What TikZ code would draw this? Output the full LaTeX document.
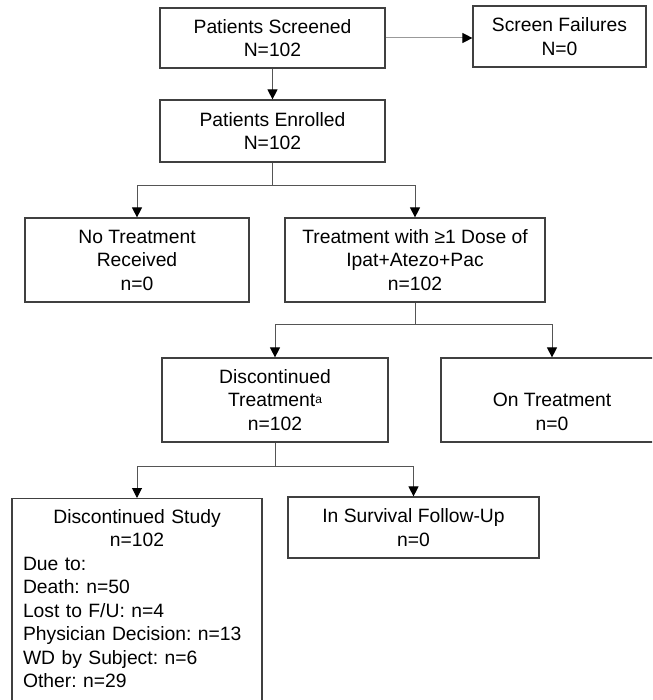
\documentclass[tikz,border=0pt]{standalone}
\usepackage{fontspec}
\setmainfont{Liberation Sans}
\usetikzlibrary{arrows.meta}
\definecolor{boxgray}{HTML}{404040}
\definecolor{linegray}{HTML}{555555}
\frenchspacing
\begin{document}
\begin{tikzpicture}[x=1pt,y=-1pt,
    box/.style={draw=boxgray, line width=1.2pt, inner sep=0pt, align=center,
      font=\fontsize{19.3}{23.5}\selectfont},
    link/.style={draw=linegray, line width=1pt},
    arr/.style={link, -{Triangle[length=10pt,width=10pt,color=black]}}]
  \clip (0,0) rectangle (652,700);
  % boxes
  \node[box, minimum width=225, minimum height=60] (screened) at (272.5,38)
    {Patients Screened\\N=102};
  \node[box, minimum width=173, minimum height=61] (failures) at (559.5,36.5)
    {Screen Failures\\N=0};
  \node[box, minimum width=225, minimum height=62] (enrolled) at (272.5,131)
    {Patients Enrolled\\N=102};
  \node[box, minimum width=224, minimum height=84] (notreat) at (137,260)
    {No Treatment\\Received\\n=0};
  \node[box, minimum width=260, minimum height=84] (treat) at (415,260)
    {Treatment with ≥1 Dose of\\Ipat+Atezo+Pac\\n=102};
  \node[box, minimum width=226, minimum height=84] (disctreat) at (275,400)
    {Discontinued\\Treatment{\fontsize{12}{12}\selectfont\raisebox{3pt}{a}}\\n=102};
  \node[box, minimum width=222, minimum height=84] (ontreat) at (552,400)
    {\vphantom{O}\\On Treatment\\n=0};
  \node[box, minimum width=250, minimum height=210, anchor=north] (study) at (137,498) {};
  \node[anchor=north, inner sep=0pt, text width=228, align=left,
    font=\fontsize{19.3}{23.5}\selectfont] (studytext) at ([yshift=-11]study.north)
    {{\centering Discontinued Study\\n=102\par}
     Due to:\\Death: n=50\\Lost to F/U: n=4\\Physician Decision: n=13\\WD by Subject: n=6\\Other: n=29};
  \node[box, minimum width=251, minimum height=61] (survival) at (413.5,527.5)
    {In Survival Follow-Up\\n=0};
  % connectors
  \draw[arr, draw=gray!80] (screened.east) -- (screened.east -| failures.west);
  \draw[arr] (screened.south) -- (enrolled.north);
  \draw[link] (enrolled.south) -- ++(0,23) coordinate (fork1);
  \draw[arr] (fork1) -| (notreat.north);
  \draw[arr] (fork1) -| (treat.north);
  \draw[link] (treat.south) -- ++(0,22) coordinate (fork2);
  \draw[arr] (fork2) -| (disctreat.north);
  \draw[arr] (fork2) -| (ontreat.north);
  \draw[link] (disctreat.south) -- ++(0,24) coordinate (fork3);
  \draw[arr] (fork3) -| (study.north);
  \draw[arr] (fork3) -| (survival.north);
\end{tikzpicture}
\end{document}
